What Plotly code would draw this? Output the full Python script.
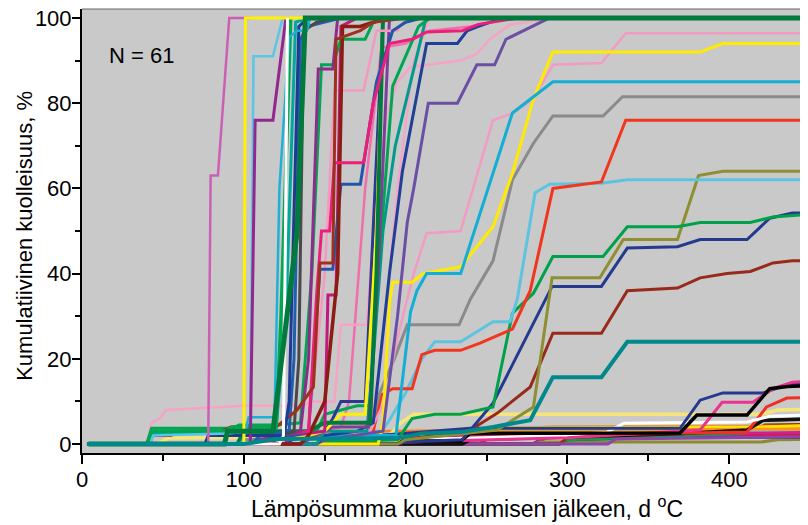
import plotly.graph_objects as go

# ---------------- data ----------------
# Each series: x = heat sum after hatching (d °C), y = cumulative mortality (%)
x01 = [4, 78, 79.5, 84, 91, 104];            y01 = [0, 0, 63, 63, 100, 100]
x02 = [4, 100, 101, 139];                    y02 = [0, 0, 100, 100]
x03 = [4, 42, 44, 90, 104, 106, 118, 124];   y03 = [0, 0, 2, 2.5, 3, 91, 91, 100]
x04 = [4, 98, 100, 103, 119, 122, 128, 133, 139, 141]
y04 = [0, 0, 1.5, 6.3, 6.3, 60, 95.5, 97, 97, 100]
x05 = [4, 104, 107, 118, 126];               y05 = [0, 0, 76, 76, 100]
x06 = [4, 122, 124.5, 127];                  y06 = [0, 0, 2, 100]
x07 = [4, 112, 115, 131, 134, 137, 145, 155]; y07 = [0, 0, 1, 3, 20, 97, 99, 100]
x08 = [4, 105, 110, 128, 131, 135, 139, 150, 160]; y08 = [0, 0, 2, 3, 20, 95, 98, 99, 100]
x09 = [4, 108, 110, 135, 140, 146, 155, 158]; y09 = [0, 0, 1, 3, 20, 88, 88, 100]
x10 = [4, 115, 120, 140, 145, 148, 153, 156, 174, 180, 190, 204, 213, 235, 245, 270]
y10 = [0, 0, 2, 3, 35, 50, 50, 66, 66, 80, 94, 95, 96.7, 97, 98.5, 100]
x11 = [4, 40, 43, 55, 60, 86, 92, 120, 133, 143, 147, 155, 157, 172, 180, 200]
y11 = [0, 0, 2, 2, 3, 3, 4, 4, 8, 13.4, 42.5, 42.5, 95, 97, 99, 100]
x12 = [4, 135, 140, 150, 158, 161, 172, 180, 190]; y12 = [0, 0, 2, 10, 40, 98, 98, 99, 100]
x13 = [4, 40, 43, 93, 97, 120, 135, 142, 148, 155, 160, 175, 180, 190]
y13 = [0, 0, 3.7, 3.7, 4.5, 4.5, 5, 40, 89, 89, 95, 95, 99, 100]
x14 = [4, 115, 120, 140, 145, 147, 155, 160, 172, 182, 192, 200, 210]
y14 = [0, 0, 1, 3, 30, 41, 41, 61, 61, 85, 97, 99, 100]
x15 = [4, 125, 130, 140, 150, 156, 174, 182, 195, 200]; y15 = [0, 0, 2, 3, 40, 83, 83, 97, 97, 100]
x16 = [4, 40, 43, 48, 52, 100, 137, 141, 156, 160, 176, 181, 188, 195, 203, 234, 244, 252, 264.5, 290]
y16 = [0, 0, 5, 6, 8, 9, 9, 10, 10, 28, 28, 55, 77, 85, 88.5, 90, 91.6, 95, 98.4, 100]
x17 = [4, 96, 100, 145, 150, 170, 178, 183, 192, 208, 215]; y17 = [0, 0, 2, 3, 7, 9, 9, 40, 84, 98, 100]
x18 = [4, 145, 150, 176, 180, 186, 193.6, 212, 214]; y18 = [0, 0, 3, 3, 20, 50, 70, 99, 100]
x19 = [4, 88, 90, 118, 133, 138, 460];      y19 = [0, 0, 3, 3, 50, 100, 100]
x20 = [4, 145, 150, 186, 195, 201, 205, 214, 232, 244, 255, 262, 289]
y20 = [0, 0, 1, 3, 30, 52, 60, 80, 80, 89, 89, 95, 100]
x21 = [4, 145, 150, 170, 180, 190, 198, 213, 232, 238, 245, 260]
y21 = [0, 0, 2, 3, 5, 40, 64, 94, 94, 97, 98, 100]
x22 = [4, 145, 150, 178, 187, 195, 205, 213, 234, 254, 266, 279, 291, 321, 336, 460]
y22 = [0, 0, 2, 3, 10, 25, 40, 49.5, 50, 76, 77.6, 81, 89, 89.4, 96.4, 96.4]
x23 = [4, 183, 186, 190, 192, 204, 211, 234, 254, 266, 279, 291, 382, 396, 460]
y23 = [0, 0, 5, 33, 38, 38, 40, 41.6, 51, 63.5, 81, 92, 92, 94, 94]
x24 = [4, 115, 120, 125, 194, 197, 203, 207, 213, 234, 266, 279, 291, 460]
y24 = [0, 0, 1, 2, 2, 12, 31, 36, 40, 40, 77.7, 81.5, 85, 85]
x25 = [4, 96, 100, 178, 184, 193, 201, 233, 240, 254, 266, 279, 291, 322, 334, 460]
y25 = [0, 0, 1, 3, 12, 20, 28, 28, 34, 43, 62, 70.6, 77, 77, 81.5, 81.5]
x26 = [4, 145, 150, 180, 185, 192, 204, 210, 218, 234, 246, 266, 277, 289, 291, 321, 336, 460]
y26 = [0, 0, 1, 3, 11.5, 13, 13, 21, 22, 22, 23.7, 27, 36, 57, 60, 61.5, 76, 76]
x27 = [4, 115, 120, 185, 189, 200, 210, 218, 234, 254, 264.5, 269, 280, 289, 321, 337, 460]
y27 = [0, 0, 2, 3, 5, 12, 20, 24, 24, 28.7, 28.7, 34, 59, 61, 61.2, 62, 62]
x28 = [4, 145, 150, 195, 204, 218, 234, 254, 266, 279, 291, 322, 337, 368, 382, 413, 427, 450, 460]
y28 = [0, 0, 0.5, 1, 6, 7, 7, 8.7, 30.7, 35.4, 44, 44, 51, 51, 52, 52, 53.3, 54, 54.2]
x29 = [4, 195, 200, 256.5, 279, 290.5, 320, 334.5, 368, 381, 396, 460]
y29 = [0, 0, 1, 3.3, 8.7, 39, 39, 48, 48, 63, 64, 64]
x30 = [4, 195, 200, 235, 254, 277, 290.5, 321, 337, 368, 382, 411, 425, 439, 460]
y30 = [0, 0, 0.5, 1, 9.6, 26.8, 37, 37, 46, 46.3, 48, 48, 53, 54.2, 54.2]
x31 = [4, 195, 200, 240, 256.5, 277, 291, 321, 337, 368, 382, 398.6, 413, 427, 439, 460]
y31 = [0, 0, 1, 3.3, 7.2, 13.4, 26, 26, 36, 36.6, 39, 40, 40.5, 42.5, 43, 43]
x32 = [3, 100, 120, 196, 210, 234, 254, 277, 291, 321, 337, 460]
y32 = [0, 0, 1.2, 1.4, 2.5, 2.8, 4, 5.6, 15.7, 15.7, 24, 24]
x33 = [4, 145, 150, 240, 369.6, 382, 396, 421, 436, 460]; y33 = [0, 0, 1, 3.7, 3.7, 10.3, 12, 12, 14, 14.5]
x34 = [4, 195, 200, 300, 382, 395.6, 414.6, 427, 439, 460]; y34 = [0, 0, 0.5, 1.5, 3.3, 9.8, 9.8, 13, 14.5, 15]
x35 = [4, 195, 198, 234, 240, 369.6, 380, 411, 425, 436, 460]
y35 = [0, 0, 0.7, 0.7, 2.5, 2.6, 6.8, 6.8, 13, 13.5, 13.8]
x36 = [4, 235, 240, 370, 411, 421, 460];     y36 = [0, 0, 1, 2.5, 3.3, 5.6, 6]
x37 = [4, 195, 200, 290, 411, 423, 435.6, 460]; y37 = [0, 0, 1, 2, 2.8, 8.7, 10.8, 11]
x38 = [4, 47, 53, 73, 80, 150, 190, 197, 205, 420, 430, 460]
y38 = [0, 0, 1.4, 1.4, 1.5, 1.6, 2, 5, 7, 7, 8, 8.2]
x39 = [4, 195, 200, 300, 324.5, 335, 411, 425, 460]; y39 = [0, 0, 1, 2, 2.8, 4.9, 5.2, 6.5, 7]
x40 = [4, 98, 102, 120, 130, 240, 260, 460]; y40 = [0, 0, 1.6, 1.6, 2, 2.5, 3.3, 3.5]
x41 = [4, 279, 289, 460];                    y41 = [0, 0, 2, 2]
x42 = [4, 280, 283, 420, 430, 460];          y42 = [0, 0, 0.5, 0.5, 1, 1.2]
x43 = [4, 295, 300, 370, 460];               y43 = [0, 0, 1, 1.6, 1.6]
x44 = [4, 245, 250, 290, 460];               y44 = [0, 0, 1, 2.1, 2.3]
x45 = [4, 295, 300, 410, 420, 460];          y45 = [0, 0, 1, 2.5, 5.5, 6]
x46 = [4, 295, 300, 415, 422, 460];          y46 = [0, 0, 1.5, 3, 4.5, 4.7]
x47 = [4, 125, 130, 150, 152, 157, 160, 170]; y47 = [0, 0, 2, 3, 35, 35, 98, 100]
x48 = [4, 135, 140, 160, 165, 175, 185, 200, 215, 240, 265]; y48 = [0, 0, 2, 4, 10, 60, 93, 94, 97, 98, 100]
x49 = [4, 40, 44, 88, 93, 120, 123, 129];    y49 = [0, 0, 3, 3, 4, 4, 30, 100]
x50 = [4, 76, 78, 125, 128, 134, 140];       y50 = [0, 0, 2, 2, 10, 98, 100]
x51 = [4, 42, 44, 100, 104, 120, 126, 132, 140]; y51 = [0, 0, 2.5, 3, 4, 4, 30, 99, 100]
x52 = [4, 115, 120, 140, 150, 155, 160, 175, 182, 186]; y52 = [0, 0, 1, 2, 3, 5, 7, 7, 50, 100]
x53 = [4, 125, 130, 150, 155, 160, 175, 181, 186]; y53 = [0, 0, 1, 3, 6, 10, 10, 60, 100]
x54 = [4, 135, 140, 150, 155, 177, 183, 190]; y54 = [0, 0, 1, 3, 4, 4, 40, 100]
x55 = [4, 145, 150, 160, 178, 185, 195, 205, 215]; y55 = [0, 0, 2, 4.5, 4.5, 20, 60, 90, 100]
x56 = [4, 96, 100, 120, 130, 140, 200, 260, 290, 460]; y56 = [0, 0, 1, 2, 2.1, 3, 3, 3.5, 4, 4.2]
x57 = [4, 115, 120, 200, 290, 460];          y57 = [0, 0, 2, 2.5, 3, 3.2]
x58 = [4, 195, 200, 300, 420, 460];          y58 = [0, 0, 1.5, 2.5, 2.6, 2.8]
x59 = [4, 195, 200, 260, 420, 460];          y59 = [0, 0, 2, 3.8, 4, 4.5]
x60 = [4, 96, 100, 140, 150, 178, 182, 186]; y60 = [0, 0, 3, 3, 5, 5, 40, 100]
x61 = [4, 325, 330, 460];                    y61 = [0, 0, 1.2, 1.8]

x_ticks = [0, 100, 200, 300, 400]
y_ticks = [0, 20, 40, 60, 80, 100]
n_label = "N = 61"
x_title = "Lämpösumma kuoriutumisen jälkeen, d <sup>o</sup>C"
y_title = "Kumulatiivinen kuolleisuus, %"

# ---------------- styles (colour, width) ----------------
series = [
    # bottom band first
    (x41, y41, "#92278F", 4), (x42, y42, "#8C8C2E", 3), (x43, y43, "#2E3192", 3),
    (x44, y44, "#D7193A", 3), (x45, y45, "#00A651", 3), (x46, y46, "#993300", 3),
    (x56, y56, "#F58220", 3), (x57, y57, "#6DCFF6", 3), (x58, y58, "#D02090", 3),
    (x59, y59, "#FFE600", 3), (x61, y61, "#8E44AD", 3),
    (x40, y40, "#F7941D", 3), (x38, y38, "#F8E57A", 3.5), (x36, y36, "#111111", 3.5),
    (x37, y37, "#EE3124", 3), (x39, y39, "#FFFFFF", 3), (x33, y33, "#27388F", 3),
    (x34, y34, "#E9338F", 3), (x35, y35, "#000000", 3.5),
    # late risers
    (x31, y31, "#982A1C", 3), (x30, y30, "#243A8E", 3), (x29, y29, "#8E8E33", 3),
    (x28, y28, "#00A14B", 3), (x27, y27, "#5CC3E0", 3), (x26, y26, "#F2361D", 3),
    (x25, y25, "#8A8A8A", 3), (x22, y22, "#F39BC2", 2.5), (x23, y23, "#FFEB00", 3),
    (x24, y24, "#12AED6", 3),
    # middle cluster
    (x55, y55, "#F4A6C8", 2.5), (x48, y48, "#F06EAA", 2.5), (x16, y16, "#F7A3C6", 2.5),
    (x20, y20, "#6B4FA5", 3), (x21, y21, "#1F3F98", 3), (x18, y18, "#009A8E", 3),
    (x17, y17, "#00A651", 3), (x54, y54, "#7E3F98", 3), (x53, y53, "#2B3990", 3),
    (x52, y52, "#FFF200", 3), (x60, y60, "#007A3D", 4),
    # early cluster
    (x15, y15, "#F49AC1", 2.5), (x47, y47, "#C2187F", 3), (x14, y14, "#2155A8", 3),
    (x13, y13, "#00A651", 3), (x12, y12, "#8B1C12", 3.5), (x10, y10, "#EC1E79", 3),
    (x09, y09, "#8B2E8B", 3), (x08, y08, "#1F5FB0", 3), (x07, y07, "#4A4A4A", 3),
    (x11, y11, "#A0301E", 3), (x51, y51, "#00A99D", 3), (x50, y50, "#1F3A93", 3),
    (x49, y49, "#00A651", 3.5), (x04, y04, "#1FB0D8", 2.5), (x03, y03, "#5BC5E5", 2.5),
    (x05, y05, "#93278F", 3), (x01, y01, "#CC5FB5", 2.5), (x02, y02, "#FFF200", 3),
    (x06, y06, "#FFFFFF", 3), (x19, y19, "#007A3D", 5),
    (x32, y32, "#00888A", 4),
]

fig = go.Figure()
for xs, ys, col, w in series:
    fig.add_trace(go.Scatter(x=xs, y=ys, mode="lines",
                             line=dict(color=col, width=w),
                             showlegend=False, hoverinfo="skip"))

# The page body adds an 8 px offset; margins below compensate for it.
font_family = "Liberation Sans, Arial, sans-serif"
axis_common = dict(
    showline=True, linecolor="black", linewidth=2,
    ticks="outside", tickcolor="black", tickwidth=2,
    showgrid=False, zeroline=False, automargin=False,
    ticklabeloverflow="allow",
    tickfont=dict(family=font_family, size=22, color="black"),
)
fig.update_layout(
    width=808, height=525,
    margin=dict(l=74, r=0, t=1, b=80),
    paper_bgcolor="white", plot_bgcolor="#C9C9C9",
    xaxis=dict(range=[0, 453.6], tickvals=x_ticks, ticklen=9,
               ticklabelstandoff=-3,
               minor=dict(ticks="outside", dtick=50, tick0=0, ticklen=6,
                          tickwidth=2, tickcolor="black"),
               **axis_common),
    yaxis=dict(range=[-2.1, 102.1], tickvals=y_ticks, ticklen=8,
               ticklabelstandoff=-4,
               minor=dict(ticks="outside", dtick=10, tick0=0, ticklen=5,
                          tickwidth=2, tickcolor="black"),
               **axis_common),
    font=dict(family=font_family, color="black"),
    annotations=[
        dict(text=n_label, xref="paper", yref="paper", x=0.034, y=0.896,
             xanchor="left", yanchor="middle", showarrow=False,
             font=dict(size=22, family=font_family)),
        dict(text=x_title, xref="paper", yref="paper", x=0.525, y=-0.121,
             xanchor="center", yanchor="middle", showarrow=False,
             font=dict(size=23, family=font_family)),
        dict(text=y_title, xref="paper", yref="paper", x=-0.0777, y=0.489,
             xanchor="center", yanchor="middle", showarrow=False, textangle=-90,
             font=dict(size=22, family=font_family)),
    ],
    shapes=[dict(type="line", xref="paper", yref="paper", x0=0, x1=1, y0=1, y1=1,
                 line=dict(color="#666666", width=1))],
)
fig.write_html("out.html")
